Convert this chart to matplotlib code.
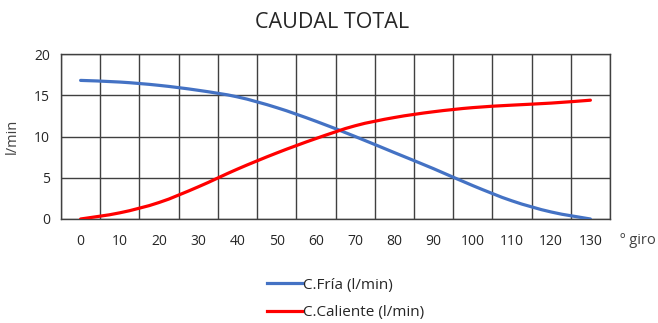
import numpy as np
import matplotlib.pyplot as plt
from matplotlib.path import Path
from matplotlib.patches import PathPatch
from matplotlib.lines import Line2D

plt.rcParams['font.family'] = ['Open Sans', 'DejaVu Sans']

# Datos
giro = [0, 10, 20, 30, 40, 50, 60, 70, 80, 90, 100, 110, 120, 130]
c_fria = [16.8, 16.6, 16.2, 15.6, 14.8, 13.5, 11.85, 10.0, 8.05, 6.1, 4.05, 2.2, 0.85, 0.0]
c_caliente = [0.0, 0.75, 2.0, 3.9, 6.05, 8.0, 9.75, 11.3, 12.3, 13.0, 13.5, 13.8, 14.05, 14.4]

AZUL = '#4472C4'
ROJO = '#FF0000'


def curva_suave(x, y):
    # Bezier tipo Catmull-Rom, como el suavizado de Excel
    x = np.asarray(x, float)
    y = np.asarray(y, float)
    pts = np.column_stack([x, y])
    verts = [pts[0]]
    codes = [Path.MOVETO]
    n = len(pts)
    for i in range(n - 1):
        p0 = pts[i - 1] if i > 0 else pts[i]
        p1 = pts[i]
        p2 = pts[i + 1]
        p3 = pts[i + 2] if i + 2 < n else pts[i + 1]
        c1 = p1 + (p2 - p0) / 6.0
        c2 = p2 - (p3 - p1) / 6.0
        verts += [c1, c2, p2]
        codes += [Path.CURVE4] * 3
    return Path(verts, codes)


fig = plt.figure(figsize=(6.58, 3.23), dpi=100)
ax = fig.add_axes([61 / 658, 1 - 219 / 323, 549 / 658, 165 / 323])

ax.add_patch(PathPatch(curva_suave(giro, c_fria), fill=False, edgecolor=AZUL,
                       lw=2.3, capstyle='round', zorder=3))
ax.add_patch(PathPatch(curva_suave(giro, c_caliente), fill=False, edgecolor=ROJO,
                       lw=2.3, capstyle='round', zorder=3))

ax.set_xlim(-5, 135)
ax.set_ylim(0, 20)
ax.set_xticks(giro)
ax.set_xticklabels([str(g) for g in giro])
ax.set_xticks(np.arange(-5, 136, 10), minor=True)
ax.set_yticks([0, 5, 10, 15, 20])
ax.tick_params(axis='both', which='both', length=0, labelsize=10, colors='#262626')
ax.tick_params(axis='x', pad=11)
ax.tick_params(axis='y', pad=8)
ax.grid(True, which='minor', axis='x', color='#404040', lw=1)
ax.grid(True, which='major', axis='y', color='#404040', lw=1)
for s in ax.spines.values():
    s.set_color('#404040')
    s.set_linewidth(1)
ax.set_axisbelow(True)

ax.set_ylabel('l/min', fontsize=10.5, color='#404040', labelpad=10)
fig.text(332 / 658, 1 - 23 / 323, 'CAUDAL TOTAL', ha='center', va='center',
         fontsize=15.5, color='#262626')
fig.text(620 / 658, 1 - 241 / 323, 'º giro', ha='left', va='center',
         fontsize=10.5, color='#404040')

handles = [Line2D([], [], color=AZUL, lw=2.3),
           Line2D([], [], color=ROJO, lw=2.3)]
fig.legend(handles, ['C.Fría (l/min)', 'C.Caliente (l/min)'],
           loc='center left', bbox_to_anchor=(253 / 658, 1 - 299 / 323),
           frameon=False, fontsize=11, handlelength=2.3, handletextpad=0.1,
           labelspacing=0.85, labelcolor='#262626')

fig.savefig('out.png', dpi=100)
